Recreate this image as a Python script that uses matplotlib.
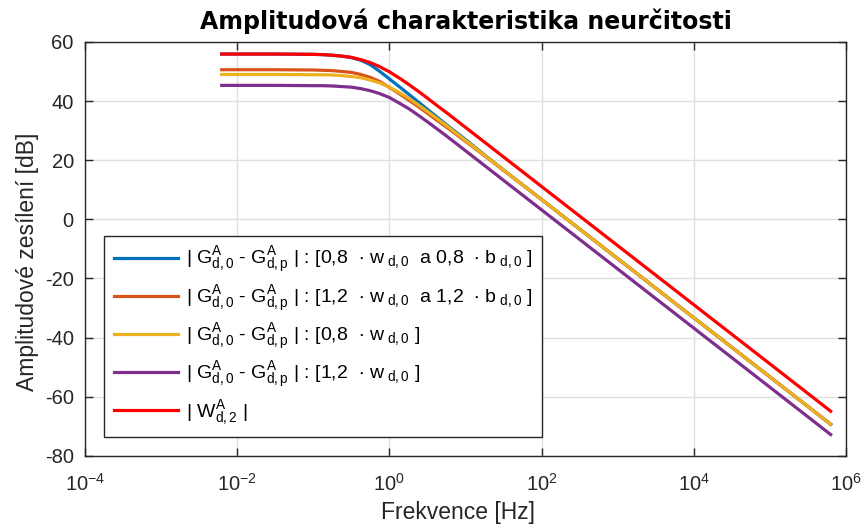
import numpy as np
import matplotlib
matplotlib.use("Agg")
import matplotlib.pyplot as plt
from matplotlib.ticker import NullLocator

plt.rcParams['font.family'] = ['Liberation Sans', 'DejaVu Sans']
plt.rcParams['mathtext.fontset'] = 'custom'
plt.rcParams['mathtext.rm'] = 'Liberation Sans'
plt.rcParams['mathtext.it'] = 'Liberation Sans'
plt.rcParams['mathtext.default'] = 'regular'
plt.rcParams['axes.unicode_minus'] = False

# frekvence [Hz]
f = [0.00628, 0.0316, 0.1, 0.133, 0.178, 0.237, 0.316, 0.422, 0.562, 0.750,
     1.0, 1.33, 1.78, 2.37, 3.16, 4.22, 5.62, 7.50, 10.0, 17.8, 31.6,
     100.0, 1e3, 1e4, 1e5, 6.28e5]

# amplitudy [dB]
g_08_wb = [55.9, 55.9, 55.8, 55.7, 55.5, 55.2, 54.7, 53.8, 52.3, 50.0,
           47.5, 45.0, 42.4, 39.8, 37.2, 34.6, 32.0, 29.5, 27.0, 21.8, 16.7,
           6.7, -13.3, -33.3, -53.3, -69.3]
g_12_wb = [50.6, 50.6, 50.5, 50.4, 50.3, 50.0, 49.7, 49.0, 48.0, 46.6,
           44.6, 42.6, 40.4, 38.2, 35.9, 33.5, 31.2, 28.8, 26.4, 21.5, 16.6,
           6.7, -13.3, -33.3, -53.3, -69.3]
g_08_w = [49.0, 49.0, 48.9, 48.9, 48.8, 48.6, 48.3, 47.9, 47.1, 46.1,
          44.7, 43.0, 41.0, 38.8, 36.5, 34.1, 31.7, 29.2, 26.7, 21.7, 16.7,
          6.7, -13.3, -33.3, -53.3, -69.3]
g_12_w = [45.3, 45.3, 45.2, 45.2, 45.1, 44.9, 44.7, 44.2, 43.5, 42.5,
          41.2, 39.4, 37.5, 35.3, 33.0, 30.6, 28.2, 25.7, 23.2, 18.2, 13.2,
          3.2, -16.8, -36.8, -56.8, -72.8]
w_d2 = [55.9, 55.9, 55.8, 55.7, 55.5, 55.2, 54.8, 54.0, 53.0, 51.6,
        49.9, 47.9, 45.7, 43.4, 41.0, 38.5, 36.1, 33.6, 31.1, 26.1, 21.1,
        11.1, -8.9, -28.9, -48.9, -64.9]

G = r'| G$_{d,0}^{A}$ - G$_{d,p}^{A}$ | : '
labels = [
    G + r'[0,8  $\cdot$ w$_{\ d,0}$  a 0,8  $\cdot$ b$_{\ d,0}$ ]',
    G + r'[1,2  $\cdot$ w$_{\ d,0}$  a 1,2  $\cdot$ b$_{\ d,0}$ ]',
    G + r'[0,8  $\cdot$ w$_{\ d,0}$ ]',
    G + r'[1,2  $\cdot$ w$_{\ d,0}$ ]',
    r'| W$_{d,2}^{A}$ |',
]
colors = ['#0072BD', '#D95319', '#EDB120', '#7E2F8E', '#FF0000']

fig = plt.figure(figsize=(8.66, 5.24), dpi=100)
ax = fig.add_axes([0.098, 0.130, 0.879, 0.790])

for y, c, lab in zip([g_08_wb, g_12_wb, g_08_w, g_12_w, w_d2], colors, labels):
    ax.semilogx(f, y, color=c, linewidth=2.3, label=lab)

ax.set_xlim(1e-4, 1e6)
ax.set_ylim(-80, 60)
ax.set_xticks([1e-4, 1e-2, 1e0, 1e2, 1e4, 1e6])
ax.xaxis.set_minor_locator(NullLocator())
ax.set_yticks(np.arange(-80, 61, 20))

ax.grid(True, color='#dfdfdf', linewidth=1.0)
ax.set_axisbelow(True)
for s in ax.spines.values():
    s.set_color('#262626')
    s.set_linewidth(1.0)
ax.tick_params(direction='in', length=6, width=1, top=True, right=True,
               labelsize=14.5, colors='#262626', pad=8)
ax.tick_params(axis='x', pad=12)

ax.set_title('Amplitudová charakteristika neurčitosti', family='DejaVu Sans',
             fontweight='bold', fontsize=17, pad=9)
ax.set_xlabel('Frekvence [Hz]', fontsize=16.5, color='#262626', labelpad=5)
ax.set_ylabel('Amplitudové zesílení [dB]', fontsize=16.5, color='#262626', labelpad=4)
ax.xaxis.label.set_x(0.490)
ax.yaxis.label.set_y(0.468)

leg = ax.legend(loc='lower left', bbox_to_anchor=(0.025, 0.046), fontsize=14,
                fancybox=False, edgecolor='#262626', framealpha=1,
                handlelength=3.3, handletextpad=0.4, labelspacing=0.42,
                borderpad=0.5, borderaxespad=0)
leg.get_frame().set_linewidth(1.0)

fig.savefig('out.png', dpi=100)
